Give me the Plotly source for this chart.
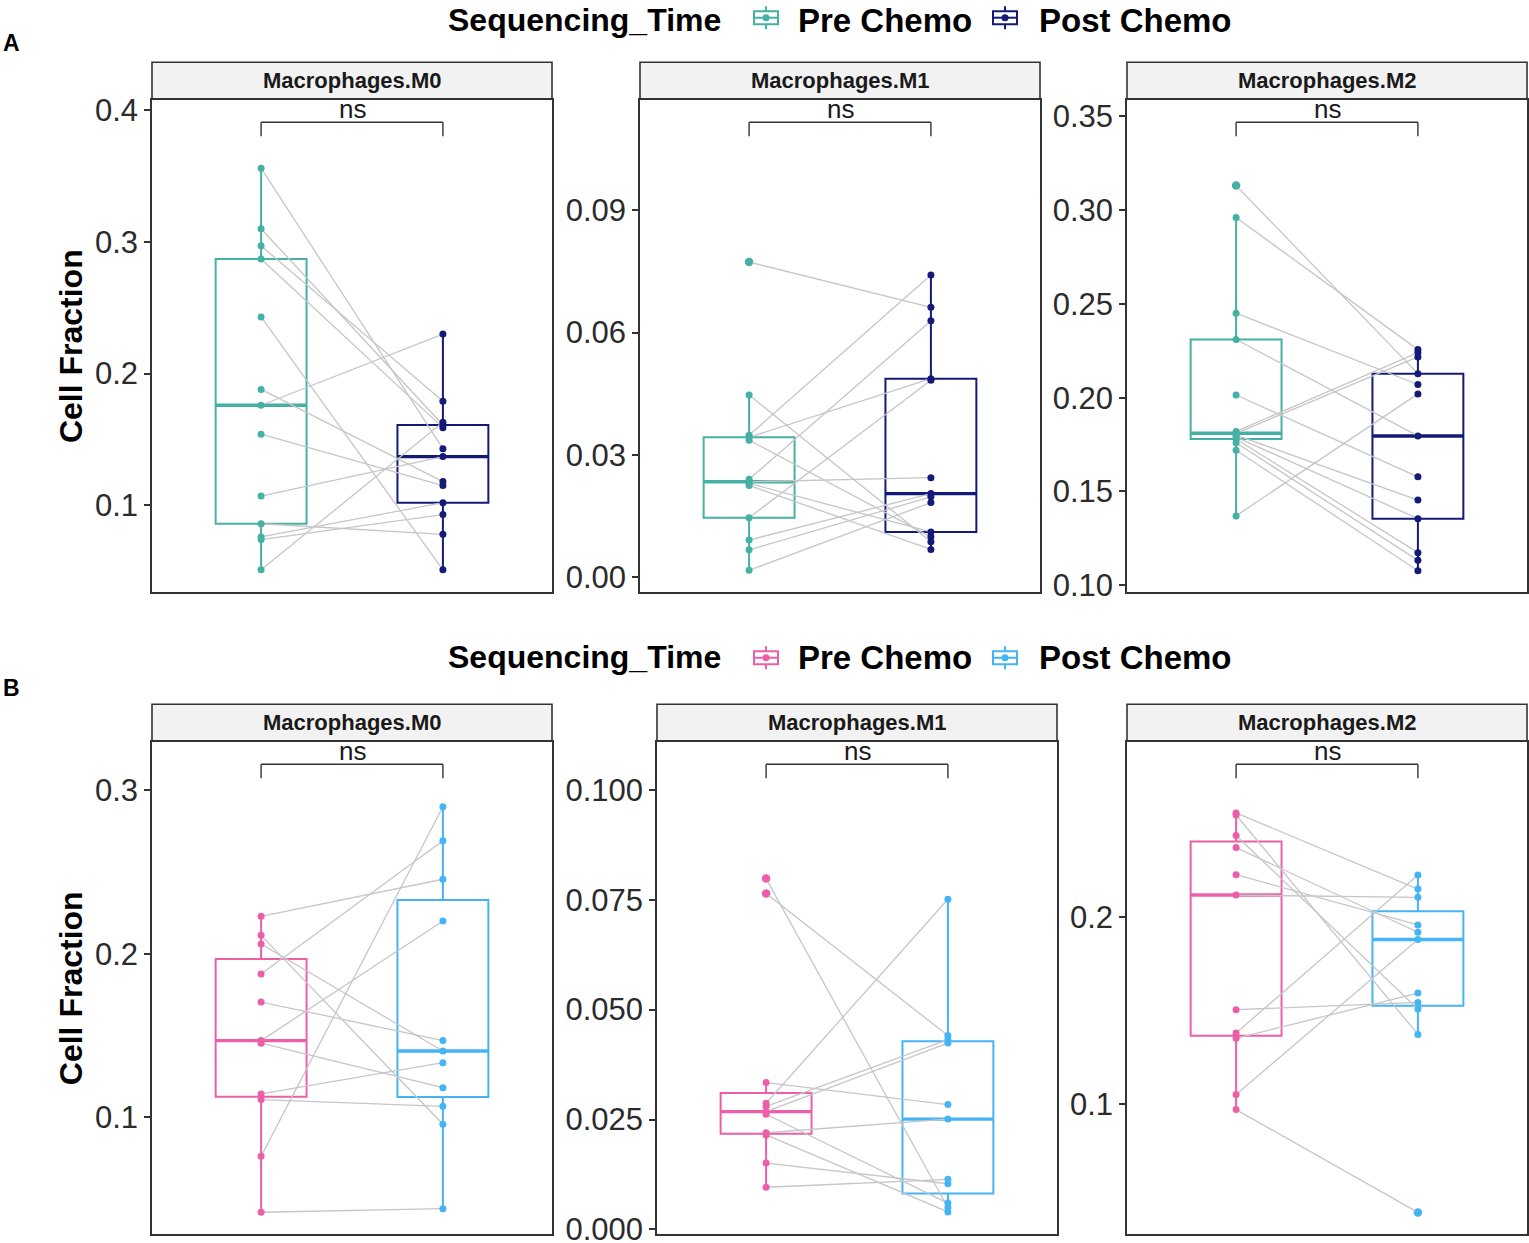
import numpy as np
import plotly.graph_objects as go

# ---------------- data (paired samples: index i of pre pairs with index i of post) ----------------
cell_types = ["Macrophages.M0", "Macrophages.M1", "Macrophages.M2"]
groups = ["Pre Chemo", "Post Chemo"]
legend_title = "Sequencing_Time"
y_title = "Cell Fraction"
sig_label = "ns"
panel_tags = ["A", "B"]

# Panel A
a_m0_pre = [0.356, 0.310, 0.297, 0.287, 0.243, 0.188, 0.176, 0.154, 0.107, 0.086, 0.076, 0.074, 0.051]
a_m0_post = [0.143, 0.161, 0.179, 0.159, 0.051, 0.118, 0.230, 0.115, 0.137, 0.078, 0.102, 0.093, 0.163]
a_m1_pre = [0.0773, 0.0447, 0.0348, 0.0343, 0.0336, 0.0240, 0.0234, 0.0230, 0.0225, 0.0146, 0.0091, 0.0067, 0.0017]
a_m1_post = [0.0662, 0.0087, 0.0741, 0.0487, 0.0099, 0.0629, 0.0244, 0.0111, 0.0068, 0.0483, 0.0205, 0.0197, 0.0183]
a_m2_pre = [0.313, 0.296, 0.245, 0.231, 0.2014, 0.182, 0.181, 0.180, 0.179, 0.178, 0.176, 0.172, 0.137]
a_m2_post = [0.2128, 0.2256, 0.207, 0.1796, 0.1578, 0.2240, 0.2217, 0.1454, 0.1355, 0.1174, 0.1133, 0.1078, 0.202]

# Panel B
b_m0_pre = [0.2229, 0.2113, 0.206, 0.1877, 0.1705, 0.1469, 0.1453, 0.1143, 0.1108, 0.0761, 0.0419]
b_m0_post = [0.2456, 0.0957, 0.1405, 0.2692, 0.1469, 0.2201, 0.1181, 0.1334, 0.1067, 0.290, 0.0441]
b_m1_pre = [0.0798, 0.0764, 0.0334, 0.0287, 0.0280, 0.0268, 0.0262, 0.0220, 0.0215, 0.0151, 0.0096]
b_m1_post = [0.0050, 0.0441, 0.0284, 0.0751, 0.0432, 0.0424, 0.0060, 0.0251, 0.0040, 0.0104, 0.0114]
b_m2_pre = [0.2558, 0.2547, 0.2437, 0.2373, 0.2228, 0.2119, 0.1506, 0.1381, 0.1353, 0.1053, 0.0972]
b_m2_post = [0.2151, 0.1374, 0.1510, 0.1920, 0.1959, 0.2107, 0.1545, 0.2226, 0.1595, 0.1881, 0.0422]

# tick values / labels
a_m0_ticks = [0.1, 0.2, 0.3, 0.4]
a_m0_ticklabels = ["0.1", "0.2", "0.3", "0.4"]
a_m1_ticks = [0.00, 0.03, 0.06, 0.09]
a_m1_ticklabels = ["0.00", "0.03", "0.06", "0.09"]
a_m2_ticks = [0.10, 0.15, 0.20, 0.25, 0.30, 0.35]
a_m2_ticklabels = ["0.10", "0.15", "0.20", "0.25", "0.30", "0.35"]
b_m0_ticks = [0.1, 0.2, 0.3]
b_m0_ticklabels = ["0.1", "0.2", "0.3"]
b_m1_ticks = [0.000, 0.025, 0.050, 0.075, 0.100]
b_m1_ticklabels = ["0.000", "0.025", "0.050", "0.075", "0.100"]
b_m2_ticks = [0.1, 0.2]
b_m2_ticklabels = ["0.1", "0.2"]

# ---------------- styling ----------------
W = 1529
HF = 1257          # figure height in page pixels
OY, SY = 6.8, 0.984  # vertical page->photo mapping observed for this viewer
FONT = "Liberation Sans, Arial, sans-serif"
colors_a = ["#45B0A4", "#131A78"]
colors_b = ["#EC5FA8", "#45B4F5"]
pair_line_color = "#C6C6C6"
frame_color = "#333333"

# y ranges of each panel (axis limits)
yr = {
    "a0": [0.034, 0.4076], "a1": [-0.0037, 0.117], "a2": [0.0963, 0.3585],
    "b0": [0.0284, 0.3294], "b1": [-0.0011, 0.1108], "b2": [0.0305, 0.2936],
}

def px(x):
    return x / W

def py(y):
    return 1 - ((y - OY) / SY) / HF

def xdom(l, r):
    return [px(l), px(r)]

def ydom(top, bottom):
    return [py(bottom), py(top)]

panels = [
    dict(key="a0", ct=0, pre=a_m0_pre, post=a_m0_post, cols=colors_a, xd=xdom(152, 552), yd=ydom(100, 592), st=ydom(62, 99), tv=a_m0_ticks, tt=a_m0_ticklabels),
    dict(key="a1", ct=1, pre=a_m1_pre, post=a_m1_post, cols=colors_a, xd=xdom(640, 1040), yd=ydom(100, 592), st=ydom(62, 99), tv=a_m1_ticks, tt=a_m1_ticklabels),
    dict(key="a2", ct=2, pre=a_m2_pre, post=a_m2_post, cols=colors_a, xd=xdom(1127, 1527), yd=ydom(100, 592), st=ydom(62, 99), tv=a_m2_ticks, tt=a_m2_ticklabels),
    dict(key="b0", ct=0, pre=b_m0_pre, post=b_m0_post, cols=colors_b, xd=xdom(152, 552), yd=ydom(742, 1234), st=ydom(704, 741), tv=b_m0_ticks, tt=b_m0_ticklabels),
    dict(key="b1", ct=1, pre=b_m1_pre, post=b_m1_post, cols=colors_b, xd=xdom(657, 1057), yd=ydom(742, 1234), st=ydom(704, 741), tv=b_m1_ticks, tt=b_m1_ticklabels),
    dict(key="b2", ct=2, pre=b_m2_pre, post=b_m2_post, cols=colors_b, xd=xdom(1127, 1527), yd=ydom(742, 1234), st=ydom(704, 741), tv=b_m2_ticks, tt=b_m2_ticklabels),
]

fig = go.Figure()
shapes = []
annotations = []
layout_axes = {}

for i, p in enumerate(panels):
    n = i + 1
    xa = "x" if n == 1 else f"x{n}"
    ya = "y" if n == 1 else f"y{n}"
    xname = "xaxis" if n == 1 else f"xaxis{n}"
    yname = "yaxis" if n == 1 else f"yaxis{n}"
    series = [p["pre"], p["post"]]

    # boxes
    for g, vals in enumerate(series):
        fig.add_trace(go.Box(
            x=[g] * len(vals), y=vals, name=groups[g], width=0.5,
            boxpoints="outliers", pointpos=0, jitter=0, whiskerwidth=0,
            quartilemethod="inclusive",
            line=dict(color=p["cols"][g], width=2),
            fillcolor="rgba(255,255,255,0)",
            marker=dict(color=p["cols"][g], size=8.5),
            showlegend=False, hoverinfo="skip",
            xaxis=xa, yaxis=ya,
        ))
    # thicker median line (ggplot fatten)
    for g, vals in enumerate(series):
        med = float(np.median(vals))
        fig.add_trace(go.Scatter(
            x=[g - 0.25, g + 0.25], y=[med, med], mode="lines",
            line=dict(color=p["cols"][g], width=3.4), showlegend=False,
            hoverinfo="skip", xaxis=xa, yaxis=ya,
        ))
    # paired lines
    lx, ly = [], []
    for a, b in zip(p["pre"], p["post"]):
        lx += [0, 1, None]
        ly += [a, b, None]
    fig.add_trace(go.Scatter(
        x=lx, y=ly, mode="lines", line=dict(color=pair_line_color, width=1.3),
        showlegend=False, hoverinfo="skip", xaxis=xa, yaxis=ya,
    ))
    # points
    for g, vals in enumerate(series):
        fig.add_trace(go.Scatter(
            x=[g] * len(vals), y=vals, mode="markers",
            marker=dict(color=p["cols"][g], size=7), showlegend=False,
            hoverinfo="skip", xaxis=xa, yaxis=ya,
        ))

    layout_axes[xname] = dict(
        domain=p["xd"], range=[-0.6, 1.6], anchor=ya, showticklabels=False, ticks="",
        showline=True, mirror=True, linecolor=frame_color, linewidth=1.6,
        showgrid=False, zeroline=False, fixedrange=True,
    )
    yax = dict(
        domain=p["yd"], range=yr[p["key"]], anchor=xa, tickmode="array",
        tickvals=p["tv"], ticktext=p["tt"], ticks="outside", ticklen=6, tickwidth=1.5,
        tickcolor=frame_color, showline=True, mirror=True, linecolor=frame_color,
        linewidth=1.6, showgrid=False, zeroline=False, fixedrange=True,
        tickfont=dict(family=FONT, size=31, color="#2B2B2B"),
    )
    if p["ct"] == 0:
        yax["title"] = dict(text=y_title, standoff=3,
                            font=dict(family=FONT, size=32, color="black", weight="bold"))
    layout_axes[yname] = yax

    # strip
    shapes.append(dict(type="rect", xref="paper", yref="paper",
                       x0=p["xd"][0], x1=p["xd"][1], y0=p["st"][0], y1=p["st"][1],
                       fillcolor="#F2F2F2", line=dict(color=frame_color, width=1.6), layer="below"))
    annotations.append(dict(xref="paper", yref="paper", x=(p["xd"][0] + p["xd"][1]) / 2,
                            y=(p["st"][0] + p["st"][1]) / 2, text=cell_types[p["ct"]],
                            showarrow=False, xanchor="center", yanchor="middle",
                            font=dict(family=FONT, size=22, color="#1A1A1A", weight="bold")))
    # significance bracket
    ydref = f"{ya} domain"
    shapes.append(dict(type="line", xref=xa, yref=ydref, x0=0, x1=1, y0=0.9553, y1=0.9553,
                       line=dict(color="#333333", width=1.4)))
    for g in (0, 1):
        shapes.append(dict(type="line", xref=xa, yref=ydref, x0=g, x1=g, y0=0.9553, y1=0.927,
                           line=dict(color="#333333", width=1.4)))
    annotations.append(dict(xref=xa, yref=ydref, x=0.5, y=0.9553, text=sig_label,
                            showarrow=False, xanchor="center", yanchor="bottom", yshift=-4,
                            font=dict(family=FONT, size=26, color="#1A1A1A")))

# panel tags
for tag, ty in zip(panel_tags, (43, 688)):
    annotations.append(dict(xref="paper", yref="paper", x=px(1), y=py(ty), text=tag,
                            showarrow=False, xanchor="left", yanchor="middle",
                            font=dict(family=FONT, size=23, color="black", weight="bold")))

# legends (one per row), drawn as text + boxplot glyphs
def add_legend(cy, icy, cols):
    annotations.append(dict(xref="paper", yref="paper", x=px(446), y=py(cy), text=legend_title,
                            showarrow=False, xanchor="left", yanchor="middle",
                            font=dict(family=FONT, size=32, color="black", weight="bold")))
    for g, (icx, tx) in enumerate(((766, 796), (1005, 1037))):
        c = cols[g]
        shapes.append(dict(type="line", xref="paper", yref="paper", x0=px(icx), x1=px(icx),
                           y0=py(icy - 11), y1=py(icy + 12), line=dict(color=c, width=2)))
        shapes.append(dict(type="rect", xref="paper", yref="paper", x0=px(icx - 12), x1=px(icx + 12),
                           y0=py(icy - 6), y1=py(icy + 7), fillcolor="white", line=dict(color=c, width=2)))
        shapes.append(dict(type="line", xref="paper", yref="paper", x0=px(icx - 12), x1=px(icx + 12),
                           y0=py(icy + 0.5), y1=py(icy + 0.5), line=dict(color=c, width=2)))
        shapes.append(dict(type="circle", xref="paper", yref="paper", x0=px(icx - 3.5), x1=px(icx + 3.5),
                           y0=py(icy - 3), y1=py(icy + 4), fillcolor=c, line=dict(color=c, width=0)))
        annotations.append(dict(xref="paper", yref="paper", x=px(tx), y=py(cy), text=groups[g],
                                showarrow=False, xanchor="left", yanchor="middle",
                                font=dict(family=FONT, size=33, color="black", weight="bold")))

add_legend(20, 17, colors_a)
add_legend(657, 657, colors_b)

fig.update_layout(
    width=W, height=HF, autosize=False,
    margin=dict(l=0, r=0, t=0, b=0),
    paper_bgcolor="white", plot_bgcolor="white",
    boxmode="overlay", showlegend=False,
    shapes=shapes, annotations=annotations,
    **layout_axes,
)

fig.write_html(
    "out.html",
    config={"displayModeBar": False},
    post_script="document.body.style.margin='0';document.body.style.overflow='hidden';document.documentElement.style.overflow='hidden';",
)
